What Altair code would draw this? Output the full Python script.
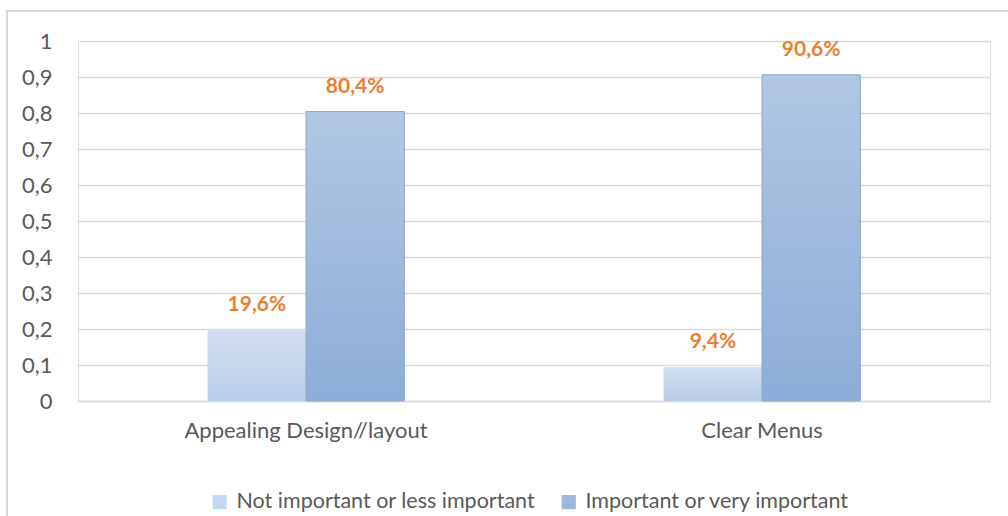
import altair as alt
import pandas as pd

categories = ["Appealing Design//layout", "Clear Menus"]
series = ["Not important or less important", "Important or very important"]
values_not = [0.196, 0.094]
values_imp = [0.804, 0.906]
labels_not = ["19,6%", "9,4%"]
labels_imp = ["80,4%", "90,6%"]

rows = []
for i, c in enumerate(categories):
    rows.append({"cat": c, "series": series[0], "value": values_not[i], "label": labels_not[i]})
    rows.append({"cat": c, "series": series[1], "value": values_imp[i], "label": labels_imp[i]})
df = pd.DataFrame(rows)

FONT = "Lato"
GRAY = "#595959"

xenc = alt.X("cat:N", sort=categories, title=None,
             scale=alt.Scale(paddingInner=0.569, paddingOuter=0.2845),
             axis=alt.Axis(labelAngle=0, labelFontSize=22, labelColor=GRAY, labelFont=FONT,
                           labelLimit=0, ticks=False, domainColor="#d9d9d9", domainWidth=1.5,
                           labelPadding=19))
xoff = alt.XOffset("series:N", sort=series, scale=alt.Scale(paddingInner=0, paddingOuter=0))
yenc = alt.Y("value:Q", title=None,
             scale=alt.Scale(domain=[0, 1]),
             axis=alt.Axis(values=[0, 0.1, 0.2, 0.3, 0.4, 0.5, 0.6, 0.7, 0.8, 0.9, 1],
                           labelExpr="replace(format(datum.value, '.1~f'), '.', ',')",
                           labelFontSize=22, labelColor=GRAY, labelFont=FONT,
                           ticks=False, domain=False, gridColor="#d9d9d9", gridWidth=1.5,
                           labelPadding=26))

base = alt.Chart(df)

legend_bars = base.mark_bar().encode(
    x=xenc, xOffset=xoff, y=yenc,
    color=alt.Color("series:N", sort=series, title=None,
                    scale=alt.Scale(domain=series, range=["#c6d8ef", "#9db8de"]),
                    legend=alt.Legend(orient="none", legendX=131, legendY=450,
                                      direction="horizontal", symbolType="square",
                                      symbolSize=200, symbolStrokeWidth=0, labelLimit=0,
                                      labelFontSize=21.5, labelColor=GRAY, labelFont=FONT,
                                      columnPadding=22, labelOffset=6)),
)

grad_light = alt.Gradient(gradient="linear", x1=0, y1=0, x2=0, y2=1,
                          stops=[alt.GradientStop(color="#d3dff0", offset=0),
                                 alt.GradientStop(color="#b8cde9", offset=1)])
grad_dark = alt.Gradient(gradient="linear", x1=0, y1=0, x2=0, y2=1,
                         stops=[alt.GradientStop(color="#b1c7e3", offset=0),
                                alt.GradientStop(color="#8dadd8", offset=1)])

light = base.transform_filter(alt.datum.series == series[0]).mark_bar(
    color=grad_light).encode(x=xenc, xOffset=xoff, y=yenc)
dark = base.transform_filter(alt.datum.series == series[1]).mark_bar(
    color=grad_dark, stroke="#8ea6c6", strokeWidth=1).encode(x=xenc, xOffset=xoff, y=yenc)

text = base.mark_text(baseline="bottom", dy=-15, fontSize=21, fontWeight="bold",
                      color="#ED7D31", font=FONT).encode(
    x=xenc, xOffset=xoff, y=yenc, text="label:N")

border = alt.Chart(pd.DataFrame({"a": [0]})).mark_rect(
    fill=None, stroke="#d9d9d9", strokeWidth=2).encode(
    x=alt.value(-71), x2=alt.value(960), y=alt.value(-30), y2=alt.value(520))

chart = alt.layer(border, legend_bars, light, dark, text).properties(
    width=912, height=360,
    autosize=alt.AutoSizeParams(type="none"),
    padding={"left": 78, "top": 41, "right": 18, "bottom": 115},
).configure_view(stroke=None).configure(background="white")

chart.save("out.html", embed_options={"renderer": "svg", "actions": False})
